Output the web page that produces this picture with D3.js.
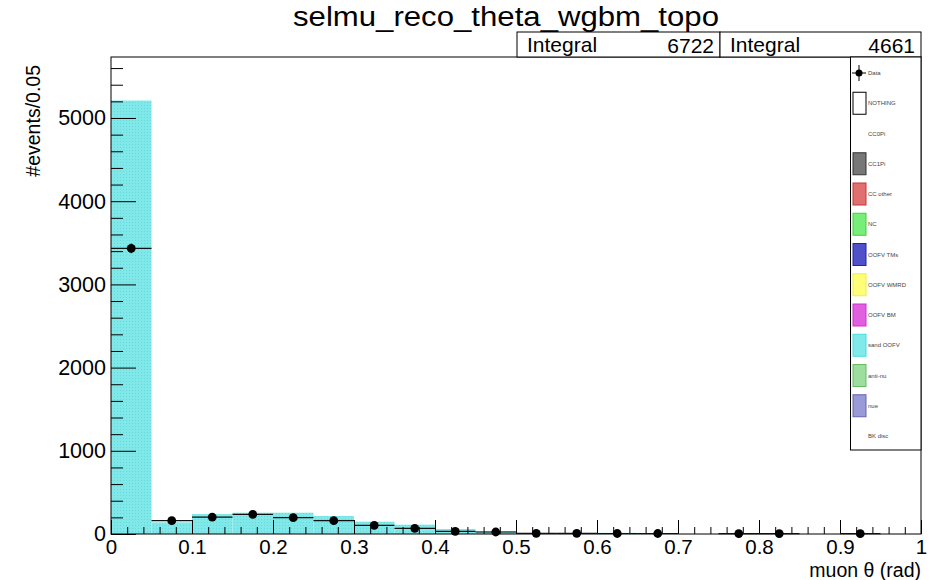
<!DOCTYPE html>
<html lang="en">
<head>
<meta charset="UTF-8">
<title>selmu_reco_theta_wgbm_topo</title>
<script src="https://d3js.org/d3.v7.min.js"></script>
<style>
  body { margin: 0; background: #fff; }
  svg { display: block; font-family: "Liberation Sans", Arial, Helvetica, sans-serif; }
  .axis path { display: none; }
  .axis line { stroke: #000; stroke-width: 1; }
  .axis text { fill: #000; }
</style>
</head>
<body>
<svg id="chart" width="930" height="580"></svg>
<script>
// bin edges (width 0.05)
const binLow = d3.range(20).map(i => i * 0.05);
// stacked MC: only "sand OOFV" is visible
const mcSand = [5210, 140, 240, 256, 256, 216, 148, 112, 60, 36, 12, 10, 14, 12, 0, 0, 0, 0, 0, 0];
// data counts
const dataCounts = [3434, 160, 204, 237, 196, 160, 104, 68, 32, 24, 8, 8, 6, 6, 0, 5, 5, 0, 4, 0];
const legendLabels = ["Data", "NOTHING", "CC0Pi", "CC1Pi", "CC other", "NC", "OOFV TMs",
  "OOFV WMRD", "OOFV BM", "sand OOFV", "anti-nu", "nue", "BK disc"];
const legendFill = [null, "#ffffff", null, "#777777", "#e07070", "#77ee77", "#5050c8",
  "#ffff77", "#e060e0", "#80eaea", "#9ddd9d", "#9a9ad8", null];
const legendStroke = [null, "#000000", null, "#333333", "#cc3333", "#44cc44", "#2222aa",
  "#eeee44", "#cc33cc", "#44dddd", "#66bb66", "#6666aa", null];
const integrals = [["Integral", "6722"], ["Integral", "4661"]];

const svg = d3.select("#chart");
const plotL = 111, plotR = 921, plotT = 57, plotB = 534;

const x = d3.scaleLinear().domain([0, 1]).range([plotL, plotR]);
const y = d3.scaleLinear().domain([0, 5733]).range([plotB, plotT]);

// hatch-like pattern for the cyan fill
const defs = svg.append("defs");
const pat = defs.append("pattern").attr("id", "cyanfill")
  .attr("width", 3).attr("height", 3).attr("patternUnits", "userSpaceOnUse");
pat.append("rect").attr("width", 3).attr("height", 3).attr("fill", "#80e8e8");
pat.append("rect").attr("width", 1).attr("height", 1).attr("fill", "#66dada");

// MC histogram
svg.append("g").selectAll("rect")
  .data(mcSand)
  .join("rect")
  .attr("x", (d, i) => x(binLow[i]))
  .attr("width", (d, i) => x(binLow[i] + 0.05) - x(binLow[i]))
  .attr("y", d => y(d))
  .attr("height", d => y(0) - y(d))
  .attr("fill", "url(#cyanfill)");

// axes (ticks drawn inward, like ROOT)
const xMinor = d3.range(0, 1.0001, 0.02).filter(v => Math.abs(v * 10 - Math.round(v * 10)) > 1e-6);
const xMajor = d3.range(0, 1.0001, 0.1);
svg.append("g").attr("class", "axis")
  .attr("transform", `translate(0,${plotB})`)
  .call(d3.axisBottom(x).tickValues(xMinor).tickSize(-7).tickFormat(""));
svg.append("g").attr("class", "axis")
  .attr("transform", `translate(0,${plotB})`)
  .call(d3.axisBottom(x).tickValues(xMajor).tickSize(-14).tickPadding(2)
    .tickFormat(d => d < 1e-9 ? "0" : d > 0.9999 ? "1" : d3.format(".1f")(d)))
  .selectAll("text").attr("font-size", 20.5).attr("dy", "0.88em");

const yMinor = d3.range(200, 5733, 200).filter(v => v % 1000 !== 0);
const yMajor = d3.range(0, 5733, 1000);
svg.append("g").attr("class", "axis")
  .attr("transform", `translate(${plotL},0)`)
  .call(d3.axisLeft(y).tickValues(yMinor).tickSize(-12).tickFormat(""));
svg.append("g").attr("class", "axis")
  .attr("transform", `translate(${plotL},0)`)
  .call(d3.axisLeft(y).tickValues(yMajor).tickSize(-25).tickPadding(5).tickFormat(d3.format("d")))
  .selectAll("text").attr("font-size", 21.5);

// frame
svg.append("rect").attr("x", plotL).attr("y", plotT)
  .attr("width", plotR - plotL).attr("height", plotB - plotT)
  .attr("fill", "none").attr("stroke", "#000").attr("stroke-width", 1);

// data points with error bars
const dataG = svg.append("g");
dataCounts.forEach((n, i) => {
  if (n <= 0) return;
  const xc = x(binLow[i] + 0.025);
  const err = Math.sqrt(n);
  dataG.append("line")
    .attr("x1", x(binLow[i])).attr("x2", x(binLow[i] + 0.05))
    .attr("y1", y(n)).attr("y2", y(n))
    .attr("stroke", "#111").attr("stroke-width", 1.2);
  dataG.append("line")
    .attr("x1", xc).attr("x2", xc)
    .attr("y1", y(n + err)).attr("y2", y(Math.max(0, n - err)))
    .attr("stroke", "#111").attr("stroke-width", 1.2);
  dataG.append("circle").attr("cx", xc).attr("cy", y(n)).attr("r", 4.4).attr("fill", "#000");
});

// title
svg.append("text").attr("x", 506).attr("y", 26).attr("text-anchor", "middle")
  .attr("font-size", 27).attr("textLength", 426).attr("lengthAdjust", "spacingAndGlyphs")
  .text("selmu_reco_theta_wgbm_topo");

// axis titles
svg.append("text").attr("transform", "translate(40,65) rotate(-90)")
  .attr("text-anchor", "end").attr("font-size", 19.5).text("#events/0.05");
svg.append("text").attr("x", plotR).attr("y", 577).attr("text-anchor", "end")
  .attr("font-size", 19.5).text("muon θ (rad)");

// integral boxes
const boxX = [517, 720, 921];
integrals.forEach((d, i) => {
  svg.append("rect").attr("x", boxX[i]).attr("y", 32)
    .attr("width", boxX[i + 1] - boxX[i]).attr("height", 25)
    .attr("fill", "#fff").attr("stroke", "#000");
  svg.append("text").attr("x", boxX[i] + 10).attr("y", 51.5).attr("font-size", 21).text(d[0]);
  svg.append("text").attr("x", boxX[i + 1] - 6).attr("y", 53).attr("text-anchor", "end")
    .attr("font-size", 21).text(d[1]);
});

// legend
const leg = svg.append("g");
leg.append("rect").attr("x", 850.5).attr("y", plotT).attr("width", plotR - 850.5).attr("height", 393)
  .attr("fill", "#fff").attr("stroke", "#000");
const ly = d3.scaleLinear().domain([0, legendLabels.length - 1]).range([73, 436]);
legendLabels.forEach((lab, i) => {
  const cy = ly(i);
  if (i === 0) {
    leg.append("line").attr("x1", 852).attr("x2", 866).attr("y1", cy).attr("y2", cy).attr("stroke", "#000");
    leg.append("line").attr("x1", 859).attr("x2", 859).attr("y1", cy - 8).attr("y2", cy + 8).attr("stroke", "#000");
    leg.append("circle").attr("cx", 859).attr("cy", cy).attr("r", 3.5).attr("fill", "#000");
  } else if (legendFill[i]) {
    leg.append("rect").attr("x", 853).attr("y", cy - 11).attr("width", 13).attr("height", 22)
      .attr("fill", legendFill[i]).attr("stroke", legendStroke[i]).attr("stroke-width", 1);
  }
  leg.append("text").attr("x", 868).attr("y", cy + 2).attr("font-size", 6)
    .attr("fill", "#444").text(lab);
});
</script>
</body>
</html>
